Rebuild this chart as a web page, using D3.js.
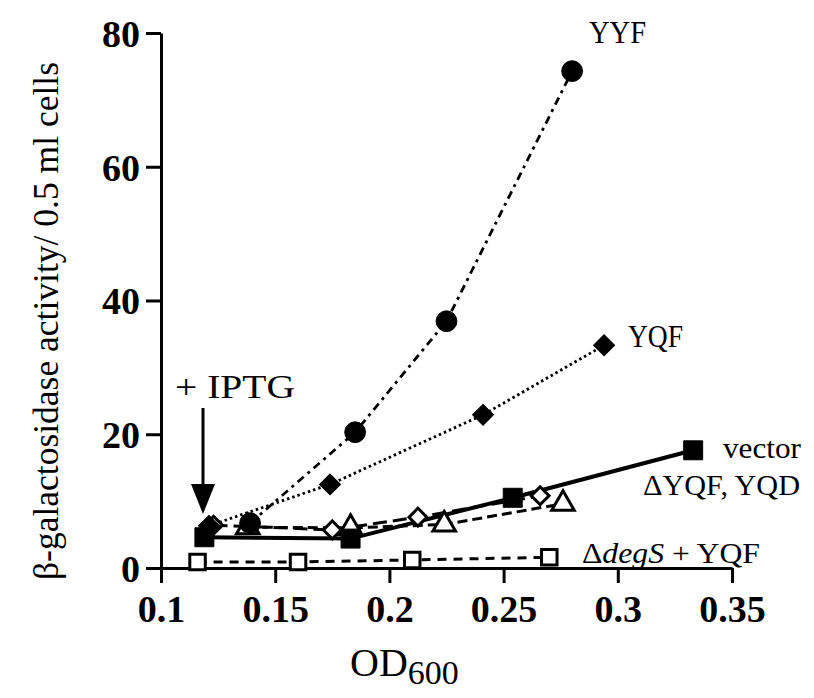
<!DOCTYPE html>
<html><head><meta charset="utf-8">
<script src="https://cdn.jsdelivr.net/npm/d3@7"></script>
<style>body{margin:0;background:#fff}svg{display:block}text{font-family:"Liberation Serif","DejaVu Serif",serif;fill:#000}</style>
</head><body>
<svg id="c" width="814" height="698"></svg>
<script>
// Data (OD600 vs beta-galactosidase activity)
const yyfX = [0.139, 0.185, 0.225, 0.280];
const yyfY = [6.7, 20.3, 36.9, 74.3];
const yqfX = [0.121, 0.174, 0.241, 0.294];
const yqfY = [6.3, 12.5, 22.9, 33.3];
const vecX = [0.119, 0.183, 0.254, 0.333];
const vecY = [4.6, 4.4, 10.5, 17.6];
const dyqfX = [0.123, 0.175, 0.2125, 0.266];
const dyqfY = [6.4, 5.7, 7.6, 10.8];
const yqdX = [0.138, 0.183, 0.224, 0.276];
const yqdY = [6.1, 6.0, 6.5, 9.6];
const degX = [0.116, 0.160, 0.210, 0.270];
const degY = [0.9, 0.9, 1.2, 1.6];
const xTicks = [0.1, 0.15, 0.2, 0.25, 0.3, 0.35];
const xTickLabels = ["0.1", "0.15", "0.2", "0.25", "0.3", "0.35"];
const yTicks = [0, 20, 40, 60, 80];
const yTickLabels = ["0", "20", "40", "60", "80"];

const svg = d3.select("#c");
const x = d3.scaleLinear().domain([0.1, 0.35]).range([161, 732]);
const y = d3.scaleLinear().domain([0, 80]).range([568, 33]);

const zip = (xs, ys) => xs.map((v, i) => [v, ys[i]]);
const line = d3.line().x(d => x(d[0])).y(d => y(d[1]));

// axes
const gx = svg.append("g").attr("transform", "translate(0,568)")
  .call(d3.axisBottom(x).tickValues(xTicks).tickFormat((d, i) => xTickLabels[i]).tickSize(15).tickSizeOuter(0).tickPadding(8));
const gy = svg.append("g").attr("transform", "translate(161,0)")
  .call(d3.axisLeft(y).tickValues(yTicks).tickFormat((d, i) => yTickLabels[i]).tickSize(15).tickSizeOuter(0).tickPadding(6));
[gx, gy].forEach(g => {
  g.selectAll("path.domain").attr("stroke", "#000").attr("stroke-width", 3);
  g.selectAll(".tick line").attr("stroke", "#000").attr("stroke-width", 3);
  g.selectAll(".tick text").style("font-family", '"Liberation Serif",serif').style("font-size", "38px").style("font-weight", "bold").attr("fill", "#000");
});
gx.selectAll(".tick text").attr("dy", "0.82em");
gy.selectAll(".tick text").attr("dy", "0.35em");

// lines
const series = [
  {d: zip(degX, degY), dash: "9,7", w: 3},
  {d: zip(yqdX, yqdY), dash: "10,5", w: 3},
  {d: zip(dyqfX, dyqfY), dash: "14,6", w: 3},
  {d: zip(vecX, vecY), dash: null, w: 4},
  {d: zip(yqfX, yqfY), dash: "2.5,3", w: 2.8},
  {d: zip(yyfX, yyfY), dash: "8,5,3,5", w: 2.8}
];
series.forEach(s => {
  svg.append("path").attr("d", line(s.d)).attr("fill", "none").attr("stroke", "#000")
    .attr("stroke-width", s.w).attr("stroke-dasharray", s.dash);
});

// markers
const sym = (type, size) => d3.symbol().type(type).size(size)();
function markers(data, type, size, filled, rot) {
  svg.append("g").selectAll("path").data(data).join("path")
    .attr("transform", d => `translate(${x(d[0])},${y(d[1])}) rotate(${rot || 0})`)
    .attr("d", sym(type, size))
    .attr("fill", filled ? "#000" : "#fff")
    .attr("stroke", "#000").attr("stroke-width", filled ? 1 : 3);
}
markers(zip(degX, degY), d3.symbolSquare, 240, false);
markers(zip(yqdX, yqdY), d3.symbolTriangle, 220, false);
markers(zip(dyqfX, dyqfY), d3.symbolSquare, 160, false, 45);
markers(zip(vecX, vecY), d3.symbolSquare, 360, true);
markers(zip(yqfX, yqfY), d3.symbolSquare, 220, true, 45);
markers(zip(yyfX, yyfY), d3.symbolCircle, 340, true);

// annotations
function label(t, x0, yb, size, len, italicParts) {
  const el = svg.append("text").attr("x", x0).attr("y", yb).style("font-size", size + "px");
  if (len) el.attr("textLength", len).attr("lengthAdjust", "spacingAndGlyphs");
  if (italicParts) {
    italicParts.forEach(p => el.append("tspan").text(p[0]).style("font-style", p[1] ? "italic" : "normal"));
  } else el.text(t);
  return el;
}
label("YYF", 589, 43, 31, 57);
label("YQF", 628, 347, 32, 55);
label("vector", 723, 458, 30, 78);
label("\u0394YQF, YQD", 643, 495, 30, 157);
label(null, 582, 563, 30, 178, [["\u0394", false], ["degS", true], [" + YQF", false]]);
label("+  IPTG", 175, 398, 34, 120);

// IPTG arrow
svg.append("line").attr("x1", 203).attr("y1", 408).attr("x2", 203).attr("y2", 490).attr("stroke", "#000").attr("stroke-width", 3);
svg.append("path").attr("d", "M191,484 L215,484 L203,514 Z").attr("fill", "#000");

// axis titles
svg.append("text").attr("transform", "translate(58,321) rotate(-90)").attr("text-anchor", "middle")
  .style("font-size", "35px").attr("textLength", 518).attr("lengthAdjust", "spacingAndGlyphs")
  .text("\u03B2-galactosidase activity/ 0.5 ml cells");
const od = svg.append("text").attr("x", 350).attr("y", 676).style("font-size", "40px");
od.append("tspan").text("OD");
od.append("tspan").attr("dy", 8).style("font-size", "34px").text("600");
</script>
</body></html>
